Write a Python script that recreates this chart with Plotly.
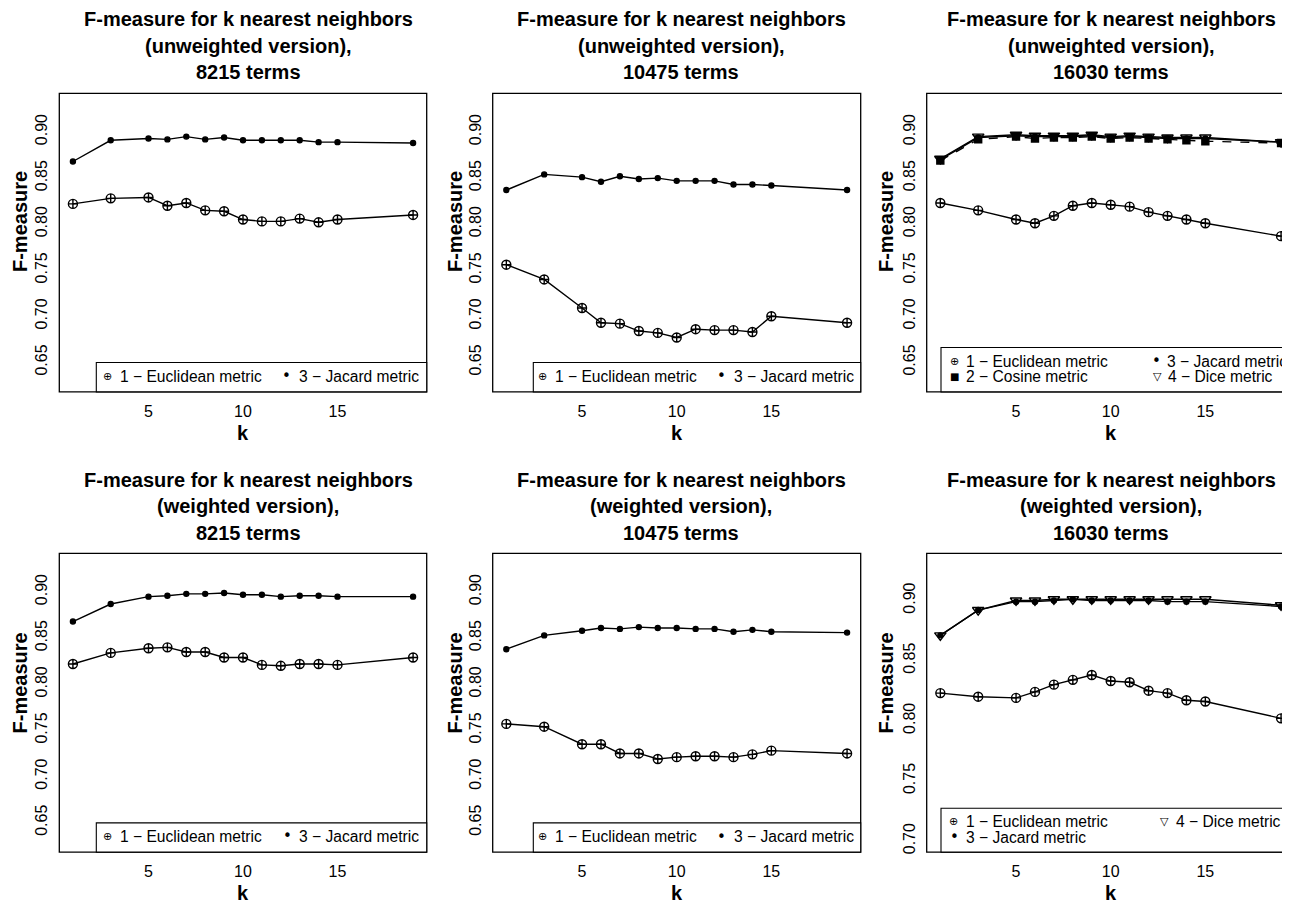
import plotly.graph_objects as go

# ---------------- data ----------------
k = [1, 3, 5, 6, 7, 8, 9, 10, 11, 12, 13, 14, 15, 19]

uw8215_euclid = [0.822, 0.828, 0.829, 0.820, 0.823, 0.815, 0.814, 0.805, 0.803, 0.803, 0.806, 0.802, 0.805, 0.810]
uw8215_jacard = [0.868, 0.891, 0.893, 0.892, 0.895, 0.892, 0.894, 0.891, 0.891, 0.891, 0.891, 0.889, 0.889, 0.888]

uw10475_euclid = [0.756, 0.740, 0.709, 0.693, 0.692, 0.684, 0.682, 0.677, 0.686, 0.685, 0.685, 0.683, 0.700, 0.693]
uw10475_jacard = [0.837, 0.854, 0.851, 0.846, 0.852, 0.849, 0.850, 0.847, 0.847, 0.847, 0.843, 0.843, 0.842, 0.837]

uw16030_euclid = [0.823, 0.815, 0.805, 0.801, 0.809, 0.820, 0.823, 0.821, 0.819, 0.813, 0.809, 0.805, 0.801, 0.787]
uw16030_cosine = [0.869, 0.892, 0.895, 0.893, 0.894, 0.894, 0.895, 0.893, 0.894, 0.893, 0.892, 0.891, 0.890, 0.888]
uw16030_jacard = [0.870, 0.894, 0.896, 0.895, 0.895, 0.895, 0.896, 0.894, 0.895, 0.894, 0.893, 0.893, 0.893, 0.889]
uw16030_dice = [0.871, 0.895, 0.897, 0.896, 0.896, 0.896, 0.897, 0.895, 0.896, 0.895, 0.894, 0.894, 0.894, 0.889]

w8215_euclid = [0.822, 0.834, 0.839, 0.840, 0.835, 0.835, 0.829, 0.829, 0.821, 0.820, 0.822, 0.822, 0.821, 0.829]
w8215_jacard = [0.868, 0.887, 0.895, 0.896, 0.898, 0.898, 0.899, 0.897, 0.897, 0.895, 0.896, 0.896, 0.895, 0.895]

w10475_euclid = [0.757, 0.754, 0.735, 0.735, 0.725, 0.725, 0.719, 0.721, 0.722, 0.722, 0.721, 0.724, 0.728, 0.725]
w10475_jacard = [0.838, 0.853, 0.858, 0.861, 0.860, 0.862, 0.861, 0.861, 0.860, 0.860, 0.857, 0.859, 0.857, 0.856]

w16030_euclid = [0.823, 0.820, 0.819, 0.824, 0.830, 0.834, 0.838, 0.833, 0.832, 0.825, 0.823, 0.817, 0.816, 0.802]
w16030_jacard = [0.871, 0.892, 0.899, 0.899, 0.900, 0.901, 0.900, 0.900, 0.900, 0.900, 0.899, 0.899, 0.899, 0.895]
w16030_dice = [0.871, 0.892, 0.900, 0.900, 0.901, 0.901, 0.901, 0.901, 0.901, 0.901, 0.901, 0.901, 0.901, 0.896]

x_ticks = [5, 10, 15]
y_ticks_a = [0.65, 0.70, 0.75, 0.80, 0.85, 0.90]
y_ticks_b = [0.70, 0.75, 0.80, 0.85, 0.90]

label_euclid = "1 \u2212 Euclidean metric"
label_cosine = "2 \u2212 Cosine metric"
label_jacard = "3 \u2212 Jacard metric"
label_dice = "4 \u2212 Dice metric"

titles = [
    ["F-measure for k nearest neighbors", "(unweighted version),", "8215 terms"],
    ["F-measure for k nearest neighbors", "(unweighted version),", "10475 terms"],
    ["F-measure for k nearest neighbors", "(unweighted version),", "16030 terms"],
    ["F-measure for k nearest neighbors", "(weighted version),", "8215 terms"],
    ["F-measure for k nearest neighbors", "(weighted version),", "10475 terms"],
    ["F-measure for k nearest neighbors", "(weighted version),", "16030 terms"],
]

# ---------------- layout geometry (screen pixels) ----------------
W, H = 1290, 902
OFF = 8  # page body margin in front of the figure
FONT = "Liberation Sans, Arial, sans-serif"


def PX(x):
    return (x - OFF) / W


def PY(y):
    return 1 - (y - OFF) / H


col_px = [(59.3, 426.7), (492.7, 860.7), (926.7, 1294.7)]
row_px = [(93.5, 392.7), (554.5, 854.0)]
x_range = [0.28, 19.72]
y_range_a = [0.618, 0.942]
y_range_b = [0.6908, 0.9392]

title_cx = [248, 681, 1111]
title_lines_y = [[19.5, 46, 72.5], [481, 507.5, 534]]
ylab_cx = [20, 455, 886]
ylab_cy = [222.5, 685]
xlab_cy = [434, 895]

STYLE = {
    "euclid": dict(symbol="circle-cross-open", size=9, dash="solid"),
    "cosine": dict(symbol="square", size=7, dash="dash"),
    "jacard": dict(symbol="circle", size=5, dash="solid"),
    "dice": dict(symbol="triangle-down-open", size=10, dash="solid"),
}

panels = [
    [("euclid", uw8215_euclid), ("jacard", uw8215_jacard)],
    [("euclid", uw10475_euclid), ("jacard", uw10475_jacard)],
    [("euclid", uw16030_euclid), ("cosine", uw16030_cosine), ("jacard", uw16030_jacard), ("dice", uw16030_dice)],
    [("euclid", w8215_euclid), ("jacard", w8215_jacard)],
    [("euclid", w10475_euclid), ("jacard", w10475_jacard)],
    [("euclid", w16030_euclid), ("jacard", w16030_jacard), ("dice", w16030_dice)],
]

names = {"euclid": label_euclid, "cosine": label_cosine, "jacard": label_jacard, "dice": label_dice}

fig = go.Figure()
layout = dict(
    width=W, height=H, margin=dict(l=0, r=0, t=0, b=0),
    paper_bgcolor="white", plot_bgcolor="white", showlegend=False,
    font=dict(family=FONT, color="black"),
)
shapes = []
annotations = []

for i, series in enumerate(panels):
    r, c = divmod(i, 3)
    n = i + 1
    xa = "x" if n == 1 else f"x{n}"
    ya = "y" if n == 1 else f"y{n}"
    for key, vals in series:
        st = STYLE[key]
        fig.add_trace(go.Scatter(
            x=k, y=vals, mode="lines+markers", name=names[key],
            xaxis=xa, yaxis=ya,
            line=dict(color="black", width=1.4, dash=st["dash"]),
            marker=dict(symbol=st["symbol"], size=st["size"], color="black",
                        line=dict(color="black", width=1.4)),
        ))
    x0, x1 = col_px[c]
    y0, y1 = row_px[r]
    yr = y_range_b if i == 5 else y_range_a
    yt = y_ticks_b if i == 5 else y_ticks_a
    layout["xaxis" if n == 1 else f"xaxis{n}"] = dict(
        domain=[PX(x0), PX(x1)], range=x_range,
        anchor=ya, tickvals=x_ticks, ticks="", showgrid=False, zeroline=False,
        showline=False, tickfont=dict(size=16, family=FONT, color="black"),
        ticklabelstandoff=8,
    )
    layout["yaxis" if n == 1 else f"yaxis{n}"] = dict(
        domain=[PY(y1), PY(y0)], range=yr, anchor=xa,
        tickvals=yt, ticktext=[f"{v:.2f}" for v in yt], tickangle=-90,
        ticks="", showgrid=False, zeroline=False, showline=False,
        tickfont=dict(size=16, family=FONT, color="black"),
        ticklabelstandoff=8,
    )
    # plot frame
    shapes.append(dict(type="rect", xref="paper", yref="paper",
                       x0=PX(x0), x1=PX(x1), y0=PY(y1), y1=PY(y0),
                       line=dict(color="black", width=1.3)))
    # titles
    for li, txt in enumerate(titles[i]):
        annotations.append(dict(
            text=txt, xref="paper", yref="paper", x=PX(title_cx[c]), y=PY(title_lines_y[r][li]),
            xanchor="center", yanchor="middle", showarrow=False,
            font=dict(size=20, family=FONT, color="black", weight="bold")))
    # axis labels
    annotations.append(dict(text="F-measure", xref="paper", yref="paper",
                            x=PX(ylab_cx[c]), y=PY(ylab_cy[r]), textangle=-90,
                            xanchor="center", yanchor="middle", showarrow=False,
                            font=dict(size=20, family=FONT, color="black", weight="bold")))
    annotations.append(dict(text="k", xref="paper", yref="paper",
                            x=PX((x0 + x1) / 2), y=PY(xlab_cy[r]),
                            xanchor="center", yanchor="middle", showarrow=False,
                            font=dict(size=20, family=FONT, color="black", weight="bold")))

# ---------------- legends (drawn as boxes + text) ----------------
SYM = {"euclid": ("\u2295", 11), "jacard": ("\u2022", 15), "cosine": ("\u25a0", 10), "dice": ("\u25bd", 11)}

legend_defs = [
    # (box_left, box_top, box_right, box_bottom, items[(key, sym_x, text_x, y)])
    (96.3, 363.3, 426.7, 392.7, [("euclid", 107.3, 118.3, 377), ("jacard", 286.7, 296.7, 377)]),
    (533.3, 363.3, 860.7, 392.7, [("euclid", 542.7, 552.7, 377), ("jacard", 721.0, 731.7, 377)]),
    (941.0, 348.3, 1294.7, 392.7, [("euclid", 954.3, 964.3, 362), ("jacard", 1156.7, 1165.0, 362),
                                   ("cosine", 954.3, 964.3, 377), ("dice", 1157.7, 1166.0, 377)]),
    (96.3, 824.7, 426.7, 854.0, [("euclid", 107.3, 118.3, 838), ("jacard", 287.3, 297.0, 838)]),
    (533.3, 824.7, 860.7, 854.0, [("euclid", 542.7, 552.7, 838.5), ("jacard", 721.7, 731.7, 838.5)]),
    (941.0, 810.0, 1294.7, 854.0, [("euclid", 954.0, 964.3, 823.5), ("dice", 1164.3, 1174.3, 823.5),
                                   ("jacard", 954.3, 964.3, 839)]),
]

for bx0, by0, bx1, by1, items in legend_defs:
    shapes.append(dict(type="rect", xref="paper", yref="paper",
                       x0=PX(bx0), x1=PX(bx1), y0=PY(by1), y1=PY(by0),
                       line=dict(color="black", width=1.1), fillcolor="white", layer="above"))
    for key, sx, tx, ty in items:
        ch, fs = SYM[key]
        annotations.append(dict(text=ch, xref="paper", yref="paper", x=PX(sx), y=PY(ty),
                                xanchor="center", yanchor="middle", showarrow=False,
                                font=dict(size=fs, family="DejaVu Sans", color="black")))
        annotations.append(dict(text=names[key], xref="paper", yref="paper", x=PX(tx), y=PY(ty),
                                xanchor="left", yanchor="middle", showarrow=False,
                                font=dict(size=15.6, family=FONT, color="black")))

layout["shapes"] = shapes
layout["annotations"] = annotations
fig.update_layout(**layout)

fig.write_html("out.html")
